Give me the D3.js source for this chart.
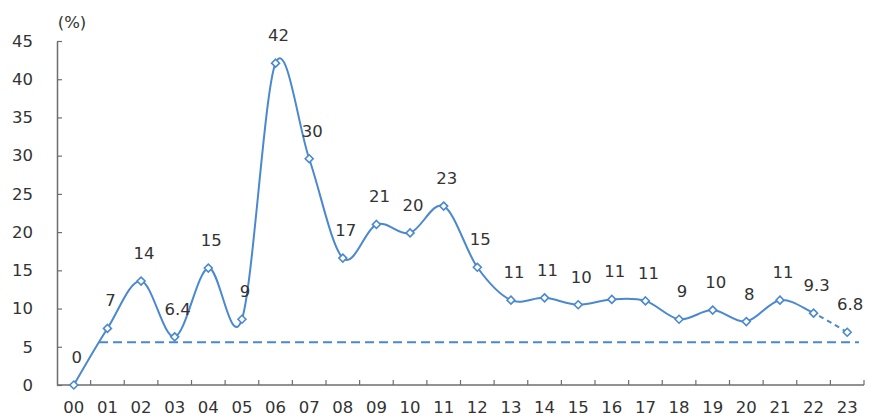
<!DOCTYPE html>
<html>
<head>
<meta charset="utf-8">
<script src="https://cdn.jsdelivr.net/npm/d3@7"></script>
<style>
  html, body { margin: 0; padding: 0; background: #fff; }
  svg { display: block; font-family: "DejaVu Sans", sans-serif; }
</style>
</head>
<body>
<svg id="chart" width="875" height="419"></svg>
<script>
// Years (two-digit) along the horizontal axis
const years = ["00","01","02","03","04","05","06","07","08","09","10","11",
               "12","13","14","15","16","17","18","19","20","21","22","23"];
// Growth rate (%) per year
const rates = [0, 7.4, 13.6, 6.3, 15.3, 8.6, 42.1, 29.6, 16.6, 21.0, 19.9, 23.4,
               15.4, 11.1, 11.4, 10.5, 11.2, 11.0, 8.6, 9.8, 8.3, 11.1, 9.4, 6.9];
// Printed value labels
const valueLabels = ["0","7","14","6.4","15","9","42","30","17","21","20","23",
                     "15","11","11","10","11","11","9","10","8","11","9.3","6.8"];
// Reference level shown as a dashed horizontal line
const referenceLevel = 5.6;
// Vertical axis ticks
const yTicks = [0, 5, 10, 15, 20, 25, 30, 35, 40, 45];
const unitLabel = "(%)";

const svg = d3.select("#chart");
const axisColor = "#6e6e6e";
const textColor = "#333333";
const lineColor = "#4a88cf";
const fontSize = 16.5;

const x = d3.scaleBand().domain(years).range([57, 864]);
const y = d3.scaleLinear().domain([0, 45]).range([385, 41]);
const cx = d => x(d) + x.bandwidth() / 2;

// Y axis
const yAxis = svg.append("g").attr("transform", `translate(${x.range()[0]},0)`)
  .call(d3.axisLeft(y).tickValues(yTicks).tickSizeInner(-5).tickSizeOuter(0).tickPadding(24));
yAxis.select(".domain").attr("stroke", axisColor).attr("stroke-width", 1.5);
yAxis.selectAll(".tick line").attr("stroke", axisColor).attr("stroke-width", 1.2);
yAxis.selectAll(".tick text").attr("fill", textColor).attr("font-size", fontSize)
  .attr("font-family", "'DejaVu Sans', sans-serif");

// X axis with ticks at category boundaries
const xAxis = svg.append("g").attr("transform", `translate(0,${y(0)})`);
xAxis.append("line")
  .attr("x1", x.range()[0]).attr("x2", x.range()[1])
  .attr("stroke", axisColor).attr("stroke-width", 1.5);
const bounds = years.map(d => x(d)).slice(1).concat([x.range()[1]]);
xAxis.selectAll("line.tk").data(bounds).join("line").attr("class", "tk")
  .attr("x1", d => d).attr("x2", d => d).attr("y1", 0).attr("y2", -5)
  .attr("stroke", axisColor).attr("stroke-width", 1.2);
xAxis.selectAll("text").data(years).join("text")
  .attr("x", d => cx(d)).attr("y", 28)
  .attr("text-anchor", "middle").attr("fill", textColor).attr("font-size", fontSize)
  .text(d => d);

// Unit label
svg.append("text").attr("x", 72).attr("y", 28).attr("text-anchor", "middle")
  .attr("fill", textColor).attr("font-size", fontSize).text(unitLabel);

// Dashed reference line
const bw = x.bandwidth();
svg.append("line")
  .attr("x1", cx("01") - bw * 0.25).attr("x2", cx("23") + bw * 0.35)
  .attr("y1", y(referenceLevel)).attr("y2", y(referenceLevel))
  .attr("stroke", lineColor).attr("stroke-width", 2)
  .attr("stroke-dasharray", "9,5");

// Smoothed series: solid up to the second-to-last year, dashed for the final segment
const pts = years.map((d, i) => ({ year: d, v: rates[i] }));
const line = d3.line().x(d => cx(d.year)).y(d => y(d.v)).curve(d3.curveCardinal.tension(0));
const splitX = cx(years[years.length - 2]);
const defs = svg.append("defs");
defs.append("clipPath").attr("id", "clip-solid").append("rect")
  .attr("x", 0).attr("y", 0).attr("width", splitX).attr("height", 419);
defs.append("clipPath").attr("id", "clip-dash").append("rect")
  .attr("x", splitX).attr("y", 0).attr("width", 875 - splitX).attr("height", 419);

svg.append("path").datum(pts).attr("d", line)
  .attr("fill", "none").attr("stroke", lineColor).attr("stroke-width", 2)
  .attr("clip-path", "url(#clip-solid)");
svg.append("path").datum(pts).attr("d", line)
  .attr("fill", "none").attr("stroke", lineColor).attr("stroke-width", 2)
  .attr("stroke-dasharray", "5,4")
  .attr("clip-path", "url(#clip-dash)");

// Diamond markers
svg.selectAll("path.mk").data(pts).join("path").attr("class", "mk")
  .attr("d", d3.symbol().type(d3.symbolDiamond2).size(40))
  .attr("transform", d => `translate(${cx(d.year)},${y(d.v)})`)
  .attr("fill", "#fff").attr("stroke", lineColor).attr("stroke-width", 1.6);

// Value labels above points
svg.selectAll("text.val").data(pts).join("text").attr("class", "val")
  .attr("x", d => cx(d.year) + 3).attr("y", d => y(d.v) - 22)
  .attr("text-anchor", "middle").attr("fill", textColor).attr("font-size", fontSize)
  .text((d, i) => valueLabels[i]);
</script>
</body>
</html>
